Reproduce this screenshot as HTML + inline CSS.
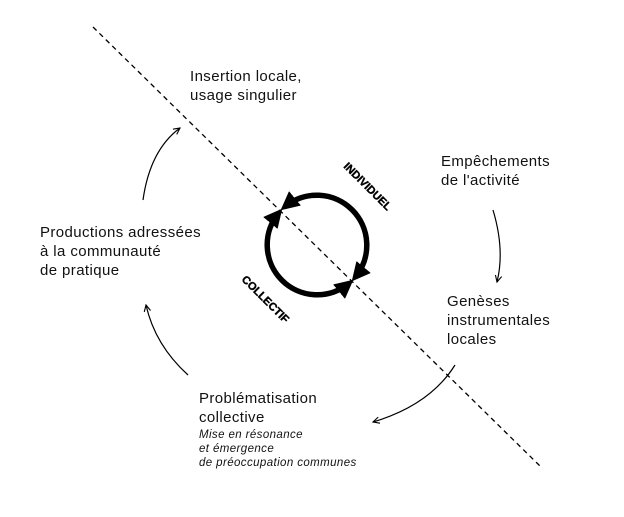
<!DOCTYPE html>
<html><head><meta charset="utf-8"><style>
body{margin:0;background:#fff;}
svg{display:block;font-family:"Liberation Sans",sans-serif;}
</style></head><body>
<svg width="624" height="517" viewBox="0 0 624 517" xmlns="http://www.w3.org/2000/svg">
<defs>
<marker id="big" viewBox="0 0 10 10" refX="7" refY="5" markerWidth="3.4" markerHeight="3.4" orient="auto-start-reverse"><path d="M0,0 L10,5 L0,10 z" fill="#000"/></marker>
<marker id="thin" viewBox="0 0 10 10" refX="9" refY="5" markerWidth="8" markerHeight="8" markerUnits="userSpaceOnUse" orient="auto"><path d="M1,1 L9,5 L1,9" fill="none" stroke="#000" stroke-width="1.4"/></marker>
</defs>
<line x1="93" y1="27" x2="541" y2="467" stroke="#000" stroke-width="1.3" stroke-dasharray="5,4"/>
<path d="M284.9,206.7 A50,50 0 0 1 355.3,277.1" fill="none" stroke="#000" stroke-width="5.5" marker-start="url(#big)" marker-end="url(#big)"/>
<path d="M278.7,212.9 A50,50 0 0 0 349.1,283.3" fill="none" stroke="#000" stroke-width="5.5" marker-start="url(#big)" marker-end="url(#big)"/>
<text x="0" y="0" font-size="11" font-weight="bold" stroke="#000" stroke-width="0.4" transform="translate(343,167) rotate(45)">INDIVIDUEL</text>
<text x="0" y="0" font-size="11" font-weight="bold" stroke="#000" stroke-width="0.4" transform="translate(241,280) rotate(45)">COLLECTIF</text>
<path d="M143,200 Q150,150 180,128" fill="none" stroke="#000" stroke-width="1.2" marker-end="url(#thin)"/>
<path d="M188,375 Q155,345 146,305" fill="none" stroke="#000" stroke-width="1.2" marker-end="url(#thin)"/>
<path d="M493,210 Q505,250 497,282" fill="none" stroke="#000" stroke-width="1.2" marker-end="url(#thin)"/>
<path d="M455,365 Q430,405 373,422" fill="none" stroke="#000" stroke-width="1.2" marker-end="url(#thin)"/>
<g font-size="15" fill="#111" letter-spacing="0.4">
<text x="190" y="81">Insertion locale,</text>
<text x="190" y="100">usage singulier</text>
<text x="441" y="166">Empêchements</text>
<text x="441" y="185">de l'activité</text>
<text x="40" y="237">Productions adressées</text>
<text x="40" y="256">à la communauté</text>
<text x="40" y="275">de pratique</text>
<text x="447" y="306">Genèses</text>
<text x="447" y="325">instrumentales</text>
<text x="447" y="344">locales</text>
<text x="199" y="403">Problématisation</text>
<text x="199" y="422">collective</text>
</g>
<g font-size="11.5" font-style="italic" fill="#111" letter-spacing="0.4">
<text x="199" y="438">Mise en résonance</text>
<text x="199" y="452">et émergence</text>
<text x="199" y="466">de préoccupation communes</text>
</g>
</svg>
</body></html>
